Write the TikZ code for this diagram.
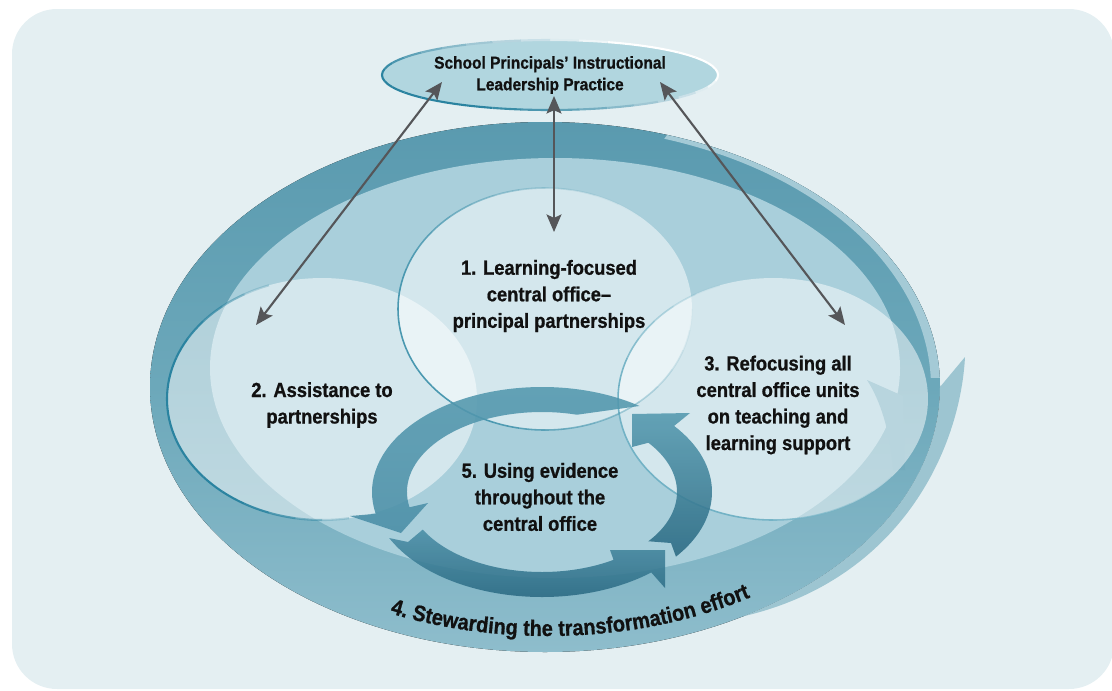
\documentclass[tikz,border=0pt]{standalone}
\usepackage{fontspec}
\setmainfont{Liberation Sans}[FakeStretch=0.9, BoldFeatures={FakeBold=0.8}]
\usetikzlibrary{shapes.geometric,arrows.meta,decorations.text}

\definecolor{bgc}{HTML}{E4EFF2}
\definecolor{ringtop}{HTML}{5A9AAF}
\definecolor{ringmid}{HTML}{6CA8BA}
\definecolor{ringbot}{HTML}{8EBDCC}
\definecolor{innerc}{HTML}{A9CFDB}
\definecolor{ribbonc}{HTML}{A4CAD6}
\definecolor{spikec}{HTML}{9DC5D1}
\definecolor{barbc}{HTML}{72ABBD}
\definecolor{topfillc}{HTML}{B1D6DF}
\definecolor{darkteal}{HTML}{2A83A0}
\definecolor{midteal}{HTML}{4A98B0}
\definecolor{lightteal}{HTML}{72B2C5}
\definecolor{cyctop}{HTML}{5499AF}
\definecolor{cycmid}{HTML}{4A8EA6}
\definecolor{cycbot}{HTML}{2A6982}
\definecolor{arrowgray}{HTML}{555659}
\definecolor{txt}{HTML}{111111}

\newcommand{\lblfont}{\bfseries\fontsize{11.6}{15.1}\selectfont}
\newcommand{\stewfont}{\bfseries\fontsize{12.6}{15}\selectfont}
\newcommand{\topfont}{\bfseries\fontsize{9.8}{12.3}\selectfont}

\begin{document}
\begin{tikzpicture}[x=0.02cm,y=0.02cm,
  lbl/.style={font=\lblfont, text=txt, align=center, inner sep=0},
  bubble/.style={ellipse, inner sep=0, fill=white, fill opacity=0.5},
  conn/.style={draw=arrowgray, line width=1.2pt,
    {Stealth[length=10pt,width=8.5pt,inset=2pt]}-{Stealth[length=10pt,width=8.5pt,inset=2pt]}},
  cyc/.style={fill opacity=0.88}
]
\useasboundingbox (0,0) rectangle (1112,-690);
\fill[bgc, rounded corners=0.9cm] (12,-9) rectangle (1114,-689);

% ---- outer ring (4) ----
\fill[top color=ringtop, bottom color=ringbot, middle color=ringmid]
  (545,-387) ellipse [x radius=395, y radius=265];
\fill[ribbonc] ([shift={(545,-387)}]72:395 and 265)
  arc[start angle=72, end angle=2, x radius=395, y radius=265]
  -- ([shift={(545,-387)}]2:386 and 261)
  arc[start angle=2, end angle=72, x radius=386, y radius=261] -- cycle;
\fill[spikec] ([shift={(545,-387)}]-60:395 and 265)
  .. controls (900,-580) and (960,-450) .. (965,-357)
  -- ([shift={(545,-387)}]0:395 and 265)
  arc[start angle=0, end angle=-60, x radius=395, y radius=265] -- cycle;
\fill[innerc] (555,-368) ellipse [x radius=345, y radius=210];
\fill[barbc] (867,-380) -- (903,-396) -- (905,-470) -- (893,-470)
  .. controls (890,-430) and (880,-400) .. (867,-380) -- cycle;

% ---- bubbles ----
\node[bubble, minimum width=5.88cm, minimum height=4.84cm] (c1) at (545,-309) {};
\node[bubble, minimum width=6.2cm, minimum height=4.84cm] (c2) at (322,-399) {};
\node[bubble, minimum width=6.2cm, minimum height=4.84cm] (c3) at (773,-399) {};

\foreach \a in {0,10,...,350}{
  \pgfmathsetmacro\opa{max(0,min(1,0.55+0.6*cos(\a-200)))}
  \draw[midteal, line width=0.9pt, draw opacity=\opa] ([shift={(545,-309)}]\a:147 and 121)
    arc[start angle=\a, end angle=\a+10, x radius=147, y radius=121];
  \pgfmathsetmacro\opb{max(0,min(1,1.4*cos(\a-190)))}
  \draw[darkteal, line width=1.2pt, draw opacity=\opb] ([shift={(322,-399)}]\a:155 and 121)
    arc[start angle=\a, end angle=\a+10, x radius=155, y radius=121];
  \pgfmathsetmacro\opc{max(0,min(1,0.3+cos(\a-210)))}
  \draw[lightteal, line width=0.9pt, draw opacity=\opc] ([shift={(773,-399)}]\a:155 and 121)
    arc[start angle=\a, end angle=\a+10, x radius=155, y radius=121];
}

% ---- cycle arrows (5) ----
\path[cyc, top color=cyctop, bottom color=cycmid]
  ([shift={(542,-492)}]55:170 and 105)
  arc[start angle=55, end angle=192, x radius=170, y radius=105]
  -- (350,-516) -- (401,-533) -- (428,-503)
  -- ([shift={(542,-492)}]191:135 and 80)
  arc[start angle=191, end angle=75, x radius=135, y radius=80] -- cycle;
\path[cyc, top color=cycmid, bottom color=cycbot]
  ([shift={(542,-492)}]206:170 and 105)
  arc[start angle=206, end angle=310, x radius=170, y radius=105]
  -- (665,-588) -- (665,-550) -- (610,-550)
  -- ([shift={(542,-492)}]302:135 and 80)
  arc[start angle=302, end angle=208, x radius=135, y radius=80]
  -- (408,-542) -- cycle;
\path[cyc, top color=cyctop, bottom color=cycbot]
  ([shift={(542,-492)}]322:135 and 80)
  arc[start angle=322, end angle=398, x radius=135, y radius=80]
  -- (632,-447) -- (632,-414) -- (690,-413)
  -- ([shift={(542,-492)}]39:170 and 105)
  arc[start angle=39, end angle=-38, x radius=170, y radius=105]
  -- (671,-543) -- cycle;

% ---- labels ----
\node[lbl] (t1) at (549,-296) {1. Learning-focused\\central office–\\principal partnerships};
\node[lbl] (t2) at (322,-405) {2. Assistance to\\partnerships};
\node[lbl] (t3) at (778,-405) {3. Refocusing all\\central office units\\on teaching and\\learning support};
\node[lbl] (t5) at (540,-497) {5. Using evidence\\throughout the\\central office};

\path[decorate, decoration={text along path, text align=center,
    text={|\stewfont\color{txt}|4. Stewarding the transformation effort}}]
  ([shift={(548,-387)}]237:378 and 249)
  arc[start angle=237, end angle=311, x radius=378, y radius=249];

% ---- top ellipse ----
\node[ellipse, fill=topfillc, minimum width=6.72cm, minimum height=1.4cm, inner sep=0,
  font=\topfont, text=txt, align=center] (top) at (550,-75)
  {School Principals’ Instructional\\Leadership Practice};
\foreach \a in {0,10,...,350}{
  \pgfmathsetmacro\pp{max(0,min(100,50+60*cos(\a-205)))}
  \draw[darkteal!\pp!white, line width=1.2pt] ([shift={(550,-75)}]\a:168 and 35)
    arc[start angle=\a, end angle=\a+10, x radius=168, y radius=35];
}

% ---- connectors ----
\coordinate (aT1) at (442,-82);  \coordinate (aB1) at (256,-325);
\coordinate (aT2) at (554,-96);  \coordinate (aB2) at (554,-232);
\coordinate (aT3) at (660,-82);  \coordinate (aB3) at (845,-325);
\draw[conn] (aT1) -- (aB1);
\draw[conn] (aT2) -- (aB2);
\draw[conn] (aT3) -- (aB3);
\end{tikzpicture}
\end{document}
